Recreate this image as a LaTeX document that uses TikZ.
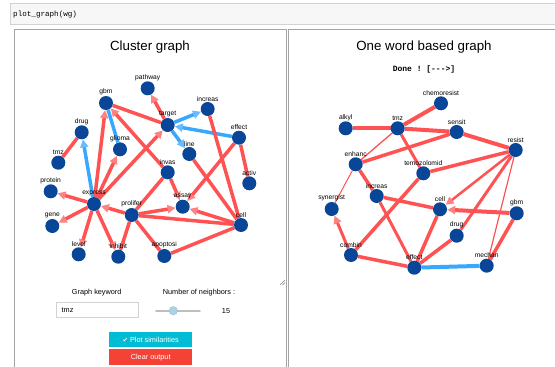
\documentclass[tikz,border=0pt]{standalone}
\usepackage{fontspec}
\setmainfont{Liberation Sans}
\setmonofont{Liberation Mono}
\newfontfamily\dejavu{DejaVu Sans}
\usetikzlibrary{arrows.meta}
\pgfdeclarelayer{edgelayer}
\pgfsetlayers{edgelayer,main}
\definecolor{nodeblue}{RGB}{10,70,152}
\definecolor{edgered}{RGB}{255,82,82}
\definecolor{tipred}{RGB}{255,130,130}
\definecolor{edgeblue}{RGB}{56,168,255}
\definecolor{tipblue}{RGB}{105,188,255}
\definecolor{panelgray}{RGB}{165,165,165}
\definecolor{cellbg}{RGB}{247,247,247}
\definecolor{cellline}{RGB}{210,210,210}
\definecolor{btncyan}{RGB}{0,188,212}
\definecolor{btnred}{RGB}{244,67,54}
\definecolor{knob}{RGB}{168,212,228}
\definecolor{track}{RGB}{190,190,190}
\tikzset{
  vn/.style={circle, fill=nodeblue, minimum size=14pt, inner sep=0pt, label distance=-0.8pt},
  lbl/.style={font=\fontsize{6.7}{7}\selectfont, inner sep=0.5pt, text=black},
  re/.style={draw=edgered, line width=#1},
  re/.default=3.5pt,
  be/.style={draw=edgeblue, line width=3.5pt},
  rarr/.style={re, -{Triangle[length=8pt,width=8pt,color=tipred]}},
  barr/.style={be, -{Triangle[length=8pt,width=8pt,color=tipblue]}},
  title/.style={font=\fontsize{13.3}{15}\selectfont},
  small/.style={font=\fontsize{7.3}{8}\selectfont},
  btn/.style={minimum width=82.7pt, minimum height=15.6pt, inner sep=0pt, text=white, font=\fontsize{7.3}{8}\selectfont},
}
\newcommand\gnode[4]{\node[vn,label={[lbl]above:#4}] (#1) at (#2,#3) {};}
\begin{document}
\begin{tikzpicture}[x=1pt,y=-1pt]
\useasboundingbox (0,0) rectangle (555,367);
% code cell
\node[draw=cellline, fill=cellbg, minimum width=548pt, minimum height=21pt, anchor=north west, inner sep=0pt] (cellbox) at (10,3) {};
\node[anchor=west, font=\ttfamily\fontsize{7.6}{8}\selectfont, inner sep=0pt] (code) at (13,15) {plot\_graph(wg)};
% panels
\draw[panelgray, line width=0.8pt] (14,367) -- (14,29) -- (286,29) -- (286,367);
\draw[panelgray, line width=0.8pt] (288.5,367) -- (288.5,29) -- (556,29);
\draw[gray, line width=0.4pt] (280,285) -- (285,280) (282.5,285) -- (285,282.5);
% titles
\node[title] (t1) at (150,47) {Cluster graph};
\node[title] (t2) at (424,47) {One word based graph};
\node[font=\ttfamily\bfseries\fontsize{8}{9}\selectfont] (done) at (424,69) {Done ! [-{}-{}->]};

% ---------- left graph nodes
\gnode{pathway}{147.7}{88.3}{pathway}
\gnode{gbm}{106}{103}{gbm}
\gnode{target}{167.7}{125}{target}
\gnode{increas}{207.7}{109}{increas}
\gnode{effect}{239}{137.7}{effect}
\gnode{drug}{81.7}{132.3}{drug}
\gnode{glioma}{120}{149.3}{glioma}
\gnode{line}{189.3}{154}{line}
\gnode{tmz}{58.3}{162.7}{tmz}
\gnode{invas}{167.7}{172.3}{invas}
\gnode{activ}{249.3}{183.3}{activ}
\gnode{protein}{50.7}{191.3}{protein}
\gnode{express}{94}{204}{express}
\gnode{assay}{182.7}{206.7}{assay}
\gnode{prolifer}{131.7}{215}{prolifer}
\gnode{cell}{241}{225}{cell}
\gnode{gene}{52.3}{226}{gene}
\gnode{level}{78.7}{254.3}{level}
\gnode{inhibit}{118.3}{256.7}{inhibit}
\gnode{apoptosi}{164.3}{256}{apoptosi}

% ---------- right graph nodes
\gnode{Rchemo}{441}{103.3}{chemoresist}
\gnode{Ralkyl}{345.7}{128.3}{alkyl}
\gnode{Rtmz}{397.7}{128.3}{tmz}
\gnode{Rsensit}{456.7}{132}{sensit}
\gnode{Rresist}{515.7}{150}{resist}
\gnode{Renhanc}{355.7}{164.3}{enhanc}
\gnode{Rtemo}{423.3}{173.3}{temozolomid}
\gnode{Rincreas}{376.7}{196}{increas}
\gnode{Rcell}{440}{209.3}{cell}
\gnode{Rgbm}{516.7}{213.3}{gbm}
\gnode{Rsyn}{331.7}{209}{synergist}
\gnode{Rdrug}{456.7}{235.7}{drug}
\gnode{Rcombin}{351}{255}{combin}
\gnode{Rmechan}{486.7}{265.7}{mechan}
\gnode{Reffect}{414.3}{267.7}{effect}

\begin{pgfonlayer}{edgelayer}
% left edges
\draw[re] (gbm) -- (target);
\draw[be] (gbm) -- (glioma);
\draw[rarr] (express) -- (gbm);
\draw[rarr] (invas) -- (gbm);
\draw[rarr] (target) -- (pathway);
\draw[barr] (target) -- (increas);
\draw[barr] (effect) -- (target);
\draw[barr] (target) -- (line);
\draw[rarr] (express) -- (target);
\draw[re] (tmz) -- (drug);
\draw[barr] (express) -- (drug);
\draw[rarr] (express) -- (glioma);
\draw[rarr] (express) -- (protein);
\draw[rarr] (express) -- (gene);
\draw[rarr] (express) -- (level);
\draw[rarr] (express) -- (inhibit);
\draw[rarr] (prolifer) -- (express);
\draw[re] (prolifer) -- (invas);
\draw[rarr] (prolifer) -- (assay);
\draw[re] (prolifer) -- (cell);
\draw[re] (prolifer) -- (inhibit);
\draw[re] (prolifer) -- (apoptosi);
\draw[rarr] (invas) -- (assay);
\draw[rarr] (effect) -- (assay);
\draw[re] (effect) -- (activ);
\draw[re] (increas) -- (cell);
\draw[re] (line) -- (cell);
\draw[rarr] (cell) -- (assay);
\draw[re] (cell) -- (apoptosi);
% right edges
\draw[re=4pt] (Rtmz) -- (Rchemo);
\draw[re=4pt] (Ralkyl) -- (Rtmz);
\draw[re=4pt] (Rtmz) -- (Rsensit);
\draw[re=4pt] (Rsensit) -- (Rresist);
\draw[re=3.5pt] (Renhanc) -- (Rsensit);
\draw[re=1.3pt] (Rtmz) -- (Renhanc);
\draw[re=3pt] (Rtmz) -- (Rtemo);
\draw[re=3.5pt] (Rtemo) -- (Rresist);
\draw[rarr, line width=2.5pt] (Rresist) -- (Rcell);
\draw[re=3pt] (Rresist) -- (Rdrug);
\draw[re=1.2pt] (Rresist) -- (Rmechan);
\draw[rarr, line width=4pt] (Rgbm) -- (Rcell);
\draw[re=3.5pt] (Rgbm) -- (Rmechan);
\draw[re=3.5pt] (Rincreas) -- (Rcell);
\draw[re=3.5pt] (Renhanc) -- (Rincreas);
\draw[re=3pt] (Rincreas) -- (Reffect);
\draw[re=1pt] (Renhanc) -- (Rsyn);
\draw[rarr, line width=3pt] (Rcombin) -- (Rsyn);
\draw[re=3.5pt] (Rtemo) -- (Rcombin);
\draw[re=3.5pt] (Rcombin) -- (Reffect);
\draw[re=3.5pt] (Rcell) -- (Reffect);
\draw[re=3.5pt] (Rdrug) -- (Reffect);
\draw[be, line width=4pt] (Reffect) -- (Rmechan);
\end{pgfonlayer}

% ---------- controls
\node[small] (kwlabel) at (96.7,292.7) {Graph keyword};
\node[draw=cellline, fill=white, minimum width=82.3pt, minimum height=15pt, inner sep=0pt] (kwbox) at (97.2,309.8) {};
\node[small, anchor=west, inner sep=0pt] (kwtext) at (61.5,310.5) {tmz};
\node[small] (nblabel) at (199,292.7) {Number of neighbors :};
\coordinate (trackA) at (156,310.7);
\coordinate (trackB) at (200,310.7);
\draw[track, line width=1.6pt, line cap=round] (trackA) -- (trackB);
\node[circle, fill=knob, draw=knob!85!black, line width=0.3pt, minimum size=8.5pt, inner sep=0pt] (knobnode) at (173.3,310.7) {};
\node[small] (nbval) at (226,310.7) {15};
\node[btn, fill=btncyan] (plotbtn) at (150.7,339.5) {{\dejavu\fontsize{6.5}{8}\selectfont ✔} Plot similarities};
\node[btn, fill=btnred] (clearbtn) at (150.7,357.2) {Clear output};
\end{tikzpicture}
\end{document}
